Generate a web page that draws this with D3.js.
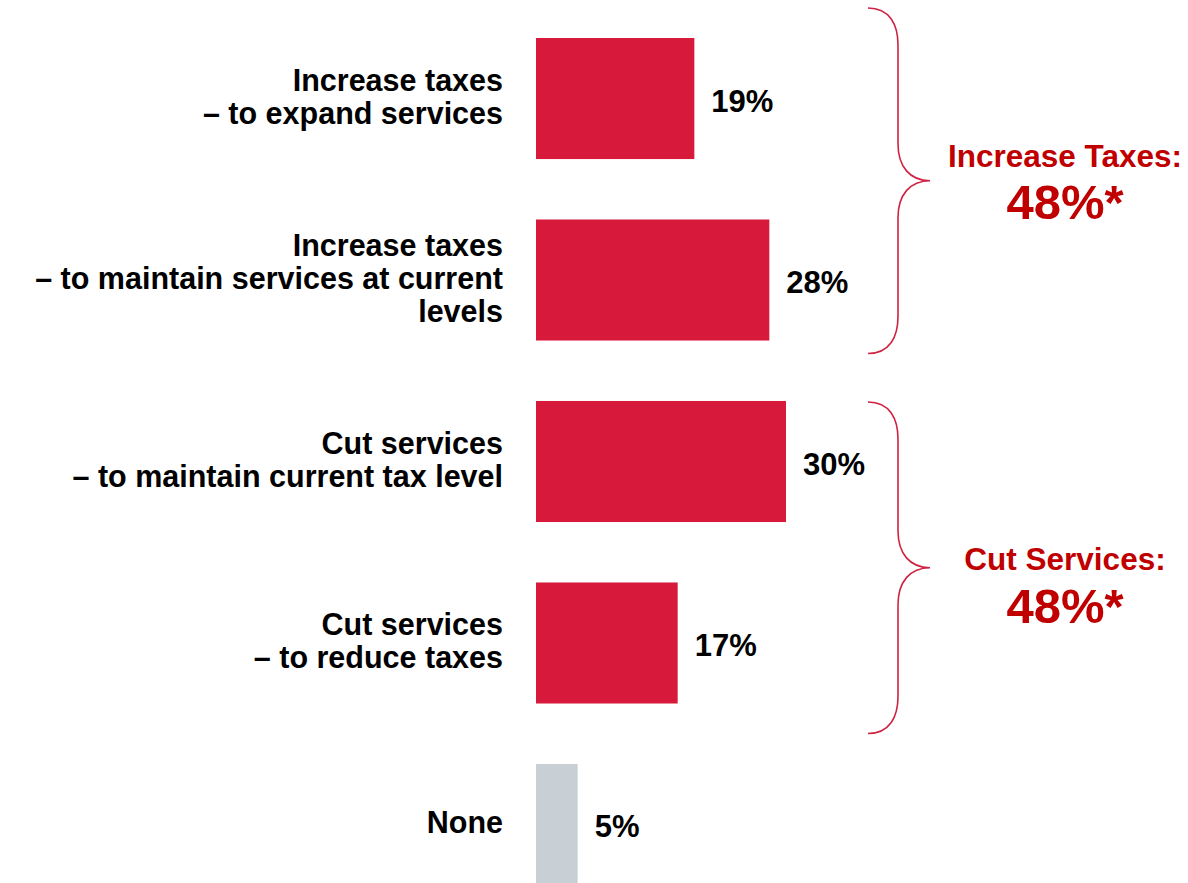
<!DOCTYPE html>
<html lang="en">
<head>
  <meta charset="UTF-8">
  <title>Increase taxes or cut services</title>
  <script src="https://d3js.org/d3.v7.min.js"></script>
  <style>
    body {
      margin: 0;
      padding: 0;
      background: #fff;
    }
    svg text {
      font-family: "Liberation Sans", Arial, sans-serif;
      font-weight: bold;
    }
  </style>
</head>
<body>
  <div id="chart"></div>

  <script>
    // data
    const categories = ["taxExpand", "taxMaintain", "cutMaintain", "cutReduce", "none"];
    const labelLines = [
      ["Increase taxes", "\u2013 to expand services"],
      ["Increase taxes", "\u2013 to maintain services at current", "levels"],
      ["Cut services", "\u2013 to maintain current tax level"],
      ["Cut services", "\u2013 to reduce taxes"],
      ["None"]
    ];
    const values = [19, 28, 30, 17, 5];
    const barKinds = ["main", "main", "main", "main", "none"];

    const groupNames = ["Increase Taxes:", "Cut Services:"];
    const groupTotals = ["48%*", "48%*"];
    const groupMembers = [["taxExpand", "taxMaintain"], ["cutMaintain", "cutReduce"]];

    const width = 1188;
    const height = 883;

    const svg = d3.select("#chart")
      .append("svg")
      .attr("width", width)
      .attr("height", height);

    const x = d3.scaleLinear()
      .domain([0, 30])
      .range([536, 786]);

    const y = d3.scaleBand()
      .domain(categories)
      .range([38, 885])
      .paddingInner(0.333)
      .paddingOuter(0);

    const color = d3.scaleOrdinal()
      .domain(["main", "none"])
      .range(["#d71a3b", "#c8d0d6"]);

    const rows = categories.map((c, i) => ({
      cat: c, value: values[i], lines: labelLines[i], kind: barKinds[i]
    }));

    // bars
    svg.selectAll(".bar")
      .data(rows)
      .join("rect")
      .attr("class", "bar")
      .attr("x", x(0))
      .attr("y", d => y(d.cat))
      .attr("width", d => x(d.value) - x(0))
      .attr("height", y.bandwidth())
      .attr("fill", d => color(d.kind));

    // value labels
    svg.selectAll(".value")
      .data(rows)
      .join("text")
      .attr("class", "value")
      .attr("x", d => x(d.value) + 17)
      .attr("y", d => y(d.cat) + y.bandwidth() / 2)
      .attr("dy", "0.42em")
      .attr("font-size", 31)
      .attr("fill", "#000")
      .text(d => d.value + "%");

    // category labels, right aligned
    const lineH = 33;
    const cat = svg.selectAll(".cat")
      .data(rows)
      .join("text")
      .attr("class", "cat")
      .attr("text-anchor", "end")
      .attr("font-size", 30.5)
      .attr("fill", "#000");

    cat.selectAll("tspan")
      .data(d => d.lines.map((t, i) => ({
        t, i, n: d.lines.length, cy: y(d.cat) + y.bandwidth() / 2
      })))
      .join("tspan")
      .attr("x", 503)
      .attr("y", d => d.cy + (d.i - (d.n - 1) / 2) * lineH + 9)
      .text(d => d.t);

    // braces
    const bracePad = [[30, 13], [-1, 30]];
    const nameShift = [-13.5, 2];
    const totalShift = [38, 55];
    const bx0 = 868, bx1 = 898, tipX = 930;

    groupMembers.forEach((members, gi) => {
      const top = y(members[0]) - bracePad[gi][0];
      const bottom = y(members[members.length - 1]) + y.bandwidth() + bracePad[gi][1];
      const mid = (top + bottom) / 2;

      const p = d3.path();
      p.moveTo(bx0, top);
      p.bezierCurveTo(bx0 + 22, top, bx1, top + 17, bx1, top + 37);
      p.lineTo(bx1, mid - 37);
      p.bezierCurveTo(bx1, mid - 14, bx1 + 12, mid, tipX, mid);
      p.bezierCurveTo(bx1 + 12, mid, bx1, mid + 14, bx1, mid + 37);
      p.lineTo(bx1, bottom - 37);
      p.bezierCurveTo(bx1, bottom - 17, bx0 + 22, bottom, bx0, bottom);

      svg.append("path")
        .attr("d", p.toString())
        .attr("fill", "none")
        .attr("stroke", "#cf2342")
        .attr("stroke-width", 1.6);

      svg.append("text")
        .attr("x", 1065)
        .attr("y", mid + nameShift[gi])
        .attr("text-anchor", "middle")
        .attr("font-size", 31.5)
        .attr("fill", "#c00000")
        .text(groupNames[gi]);

      svg.append("text")
        .attr("x", 1065)
        .attr("y", mid + totalShift[gi])
        .attr("text-anchor", "middle")
        .attr("font-size", 49)
        .attr("fill", "#c00000")
        .text(groupTotals[gi]);
    });
  </script>
</body>
</html>
